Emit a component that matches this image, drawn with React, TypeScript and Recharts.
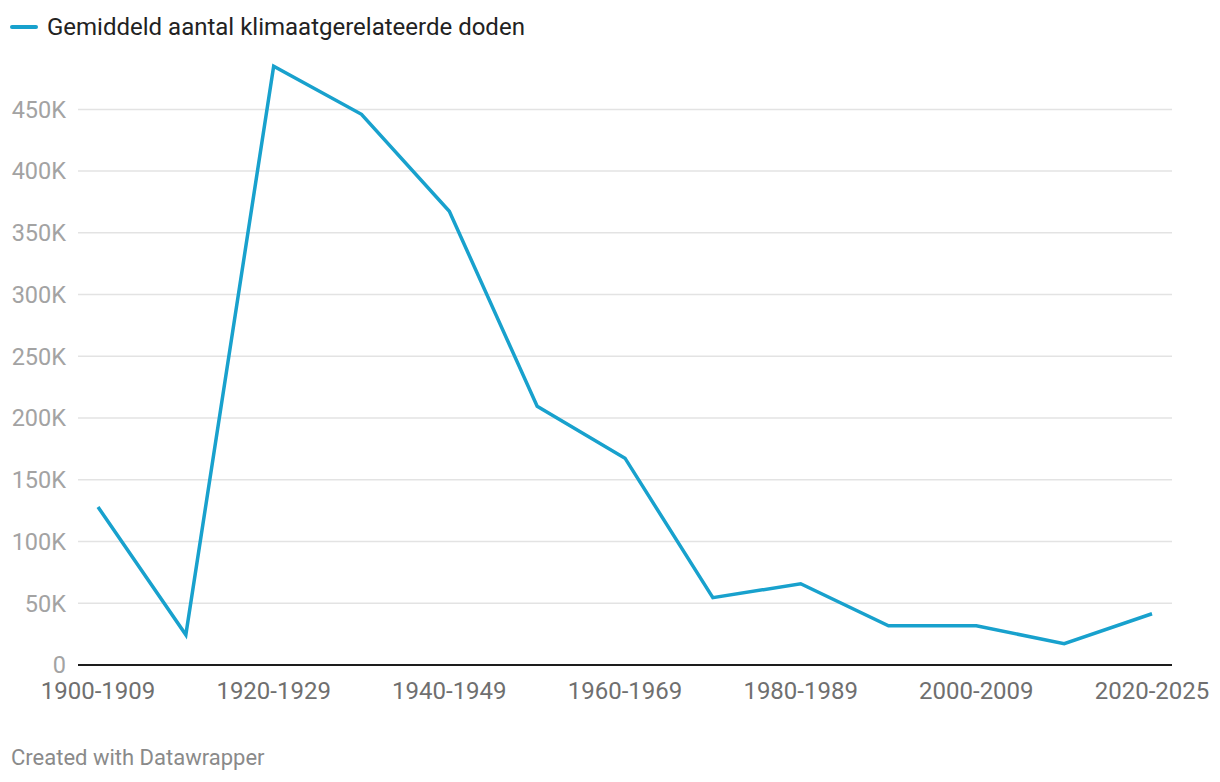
import { LineChart, Line, XAxis, YAxis, CartesianGrid } from "recharts"

const decades = [
  "1900-1909", "1910-1919", "1920-1929", "1930-1939", "1940-1949", "1950-1959",
  "1960-1969", "1970-1979", "1980-1989", "1990-1999", "2000-2009", "2010-2019", "2020-2025",
]
const deaths = [128000, 24500, 485000, 446000, 367500, 209500, 167500, 54500, 65800, 31800, 31800, 17200, 41500]
const yTicks = [0, 50000, 100000, 150000, 200000, 250000, 300000, 350000, 400000, 450000]

const data = decades.map((decade, i) => ({ decade, deaths: deaths[i] }))

const font = "Roboto, 'Noto Sans', sans-serif"
const fmt = (v: number) => (v === 0 ? "0" : `${v / 1000}K`)

export default function App() {
  return (
    <div style={{ position: "relative", width: 1220, height: 782, margin: -8, background: "#fff", fontFamily: font }}>
      {/* Legend */}
      <div style={{ position: "absolute", left: 10, top: 13, display: "flex", alignItems: "center", gap: 9 }}>
        <div style={{ width: 28, height: 4, borderRadius: 2, background: "#18a1cd" }} />
        <span style={{ fontSize: 24, color: "#222" }}>Gemiddeld aantal klimaatgerelateerde doden</span>
      </div>

      <div style={{ position: "absolute", left: 0, top: 0 }}>
        <LineChart width={1220} height={720} data={data} margin={{ top: 60, right: 48, bottom: 25, left: 18 }}>
          <CartesianGrid vertical={false} horizontalValues={yTicks} stroke="#e3e3e3" strokeWidth={1.5} />
          <XAxis
            dataKey="decade"
            height={30}
            padding={{ left: 20, right: 20 }}
            interval={1}
            axisLine={{ stroke: "#1d1d1d", strokeWidth: 2 }}
            tickLine={false}
            tickSize={0}
            tickMargin={17}
            tick={{ fill: "#6f6f6f", fontSize: 24, fontFamily: font }}
          />
          <YAxis
            width={60}
            domain={[0, 490000]}
            ticks={yTicks}
            tickFormatter={fmt}
            axisLine={false}
            tickLine={false}
            tickSize={0}
            tickMargin={12}
            tick={{ fill: "#a3a3a3", fontSize: 23.5, fontFamily: font }}
          />
          <Line
            type="linear"
            dataKey="deaths"
            stroke="#18a1cd"
            strokeWidth={3.5}
            dot={false}
            activeDot={false}
            isAnimationActive={false}
          />
        </LineChart>
      </div>

      <div style={{ position: "absolute", left: 11, top: 745, fontSize: 22, color: "#8a8a8a" }}>
        Created with Datawrapper
      </div>
    </div>
  )
}
